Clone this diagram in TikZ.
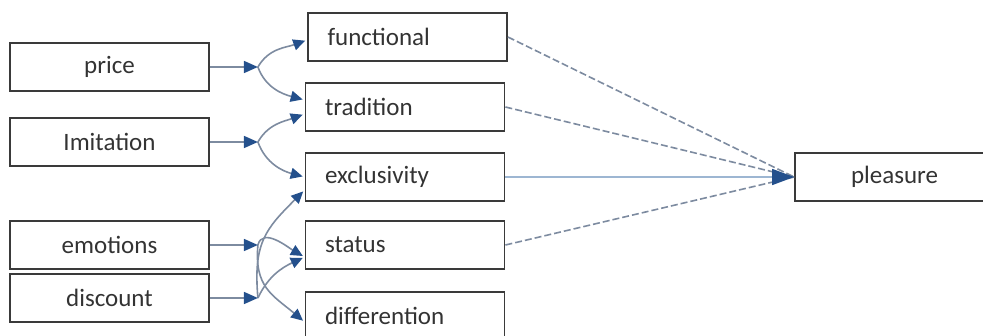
\documentclass[tikz,border=0pt]{standalone}
\usepackage{fontspec}
\setmainfont{Carlito}
\usetikzlibrary{arrows.meta}

\definecolor{boxline}{HTML}{3A3A3A}
\definecolor{linkgray}{HTML}{7D8BA0}
\definecolor{linkblue}{HTML}{9DB6D2}
\definecolor{tipblue}{HTML}{24508C}
\definecolor{textgray}{HTML}{333333}

\begin{document}
\begin{tikzpicture}[x=0.5pt, y=0.5pt,
        cause/.style={draw=boxline, line width=0.9pt, minimum width=99.5pt, minimum height=24pt,
            inner sep=0pt, text=textgray, font=\fontsize{12.5}{14}\selectfont},
        value/.style={draw=boxline, line width=0.9pt, minimum height=24pt, text width=80pt,
            inner xsep=9.75pt, inner ysep=0pt, align=left, text=textgray, font=\fontsize{12.5}{14}\selectfont},
        feed/.style={linkgray, line width=0.8pt, -{Triangle[length=7pt, width=6pt, color=tipblue]}},
        split/.style={linkgray, line width=0.8pt, shorten >=1pt, -{Triangle[length=6pt, width=5.5pt, color=tipblue]}},
        effect/.style={linkgray, line width=0.8pt, dash pattern=on 3.5pt off 1.5pt}
    ]
    \useasboundingbox (0,0) rectangle (983,-336);
    \clip (0,0) rectangle (983,-336);

    % Antecedents (left column)
    \node[cause] (price) at (109.5,-67) {price};
    \node[cause] (imitation) at (109.5,-142) {Imitation};
    \node[cause] (emotions) at (109.5,-245) {emotions};
    \node[cause] (discount) at (109.5,-298) {discount};

    % Value dimensions (middle column)
    \node[value] (functional) at (407.5,-37) {functional};
    \node[value] (tradition) at (405,-107) {tradition};
    \node[value] (exclusivity) at (405,-177) {exclusivity};
    \node[value] (status) at (405,-245) {status};
    \node[value] (differention) at (405,-316) {differention};

    % Outcome
    \node[cause] (pleasure) at (894.5,-177) {pleasure};

    % Branch points
    \coordinate (jp) at ([xshift=24pt]price.east);
    \coordinate (ji) at ([xshift=24pt]imitation.east);
    \coordinate (je) at ([xshift=24pt]emotions.east);
    \coordinate (jd) at ([xshift=24pt]discount.east);

    % Curved branches to the value dimensions
    \draw[split] (jp) to[out=60, in=200] ([yshift=-1.5pt]functional.west);
    \draw[split] (jp) to[out=-70, in=165] ([yshift=3.5pt]tradition.west);
    \draw[split] (ji) to[out=60, in=200] ([yshift=-3.5pt]tradition.west);
    \draw[split] (ji) to[out=-70, in=165] (exclusivity.west);
    \draw[split] (jd) to[out=95, in=225, looseness=1.2] ([yshift=-6.5pt]exclusivity.west);
    \draw[split] (je) to[out=75, in=150] ([yshift=-6pt]status.west);
    \draw[split] (jd) to[out=65, in=205] ([yshift=-6pt]status.west);
    \draw[split] (je) to[out=-95, in=140, looseness=1.2] ([yshift=-3pt]differention.west);

    % Antecedent arrows into the branch points
    \draw[feed] (price.east) -- (jp);
    \draw[feed] (imitation.east) -- (ji);
    \draw[feed] (emotions.east) -- (je);
    \draw[feed] (discount.east) -- (jd);

    % Paths to pleasure
    \draw[effect] (functional.east) -- (pleasure.west);
    \draw[effect] (tradition.east) -- (pleasure.west);
    \draw[effect] (status.east) -- (pleasure.west);
    \draw[linkblue, line width=0.8pt, -{Triangle[length=11pt, width=8pt, color=tipblue]}]
        (exclusivity.east) -- (pleasure.west);
\end{tikzpicture}
\end{document}
